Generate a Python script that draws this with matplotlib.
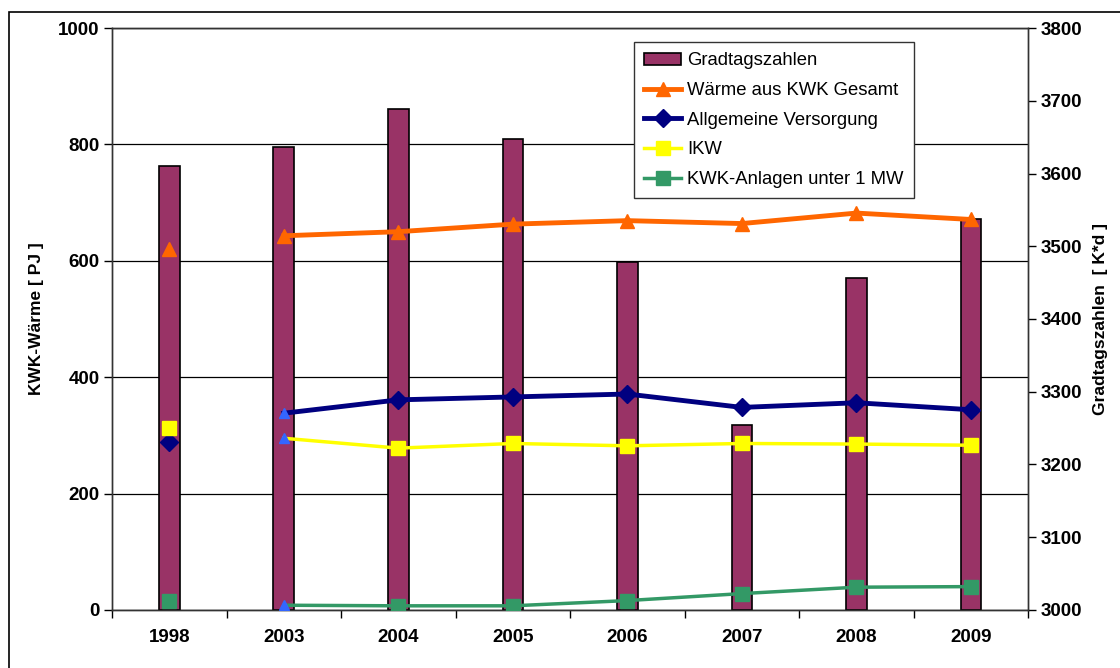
import matplotlib
matplotlib.use('Agg')
import matplotlib.pyplot as plt
from matplotlib.lines import Line2D
from matplotlib.patches import Patch, Rectangle
import numpy as np

plt.rcParams['font.family'] = ['Liberation Sans', 'DejaVu Sans']

years = ['1998', '2003', '2004', '2005', '2006', '2007', '2008', '2009']
gradtage = [3611, 3636, 3689, 3648, 3478, 3254, 3457, 3537]
waerme_gesamt = [620, 643, 650, 663, 669, 664, 682, 671]
allg_versorgung = [289, 338, 361, 366, 371, 348, 356, 344]
ikw = [312, 295, 278, 286, 282, 286, 285, 283]
kwk_klein = [15, 8, 7, 7, 16, 28, 39, 40]

c_bar = '#993366'
c_orange = '#ff6600'
c_navy = '#000080'
c_yellow = '#ffff00'
c_green = '#339966'
c_blue = '#3366ff'

fig = plt.figure(figsize=(11.2, 6.68), dpi=100)
ax1 = fig.add_axes([0.1, 0.087, 0.818, 0.871])
ax2 = ax1.twinx()
ax3 = ax1.twinx()

x = np.arange(len(years))

# left axis: grid + ticks
ax1.set_ylim(0, 1000)
ax1.set_yticks([0, 200, 400, 600, 800, 1000])
ax1.yaxis.grid(True, color='black', linewidth=0.9)
ax1.set_axisbelow(True)
ax1.set_xlim(-0.5, len(years) - 0.5)
ax1.set_xticks(x)
ax1.set_xticklabels(years)
ax1.set_xticks(np.arange(-0.5, len(years)), minor=True)
ax1.tick_params(axis='x', which='major', length=0, pad=14)
ax1.tick_params(axis='x', which='minor', length=6, direction='out', width=1)
ax1.tick_params(axis='y', length=6, direction='out', width=1, pad=3)
for lab in ax1.get_xticklabels() + ax1.get_yticklabels():
    lab.set_fontweight('bold')
    lab.set_fontsize(13.5)
ax1.set_ylabel('KWK-Wärme [ PJ ]', fontsize=12.5, fontweight='bold', labelpad=10)

# right axis: bars
ax2.set_ylim(3000, 3800)
ax2.bar(x, np.array(gradtage) - 3000, bottom=3000, width=0.18,
        color=c_bar, edgecolor='black', linewidth=1.2)
ax2.set_yticks(range(3000, 3801, 100))
ax2.tick_params(axis='y', length=6, direction='out', width=1, pad=3)
for lab in ax2.get_yticklabels():
    lab.set_fontweight('bold')
    lab.set_fontsize(13.5)
ax2.set_ylabel('Gradtagszahlen  [ K*d ]', fontsize=12.5, fontweight='bold', labelpad=8)

# lines on top
ax3.set_ylim(0, 1000)
ax3.set_yticks([])
for sp in ax3.spines.values():
    sp.set_visible(False)

ax3.plot(x[1:], waerme_gesamt[1:], color=c_orange, lw=3.5, marker='^', ms=10)
ax3.plot(x[0], waerme_gesamt[0], color=c_orange, marker='^', ms=10, ls='none')

series = [(allg_versorgung, c_navy, 'D', 9, 3.5),
          (ikw, c_yellow, 's', 10, 2.5),
          (kwk_klein, c_green, 's', 10, 2.5)]
for vals, col, mk, ms, lw in series:
    ax3.plot(x[1:], vals[1:], color=col, lw=lw, marker=mk, ms=ms, markevery=list(range(1, 7)))
    ax3.plot(x[0], vals[0], color=col, marker=mk, ms=ms, ls='none')
    ax3.plot(x[1], vals[1], color=c_blue, marker='^', ms=7, ls='none')

for ax in (ax1, ax2):
    for sp in ax.spines.values():
        sp.set_color('#333333')
        sp.set_linewidth(1)

handles = [
    Patch(facecolor=c_bar, edgecolor='black', linewidth=1.2),
    Line2D([], [], color=c_orange, lw=3.5, marker='^', ms=10),
    Line2D([], [], color=c_navy, lw=3.5, marker='D', ms=9),
    Line2D([], [], color=c_yellow, lw=2.5, marker='s', ms=10),
    Line2D([], [], color=c_green, lw=2.5, marker='s', ms=10),
]
labels = ['Gradtagszahlen', 'Wärme aus KWK Gesamt', 'Allgemeine Versorgung',
          'IKW', 'KWK-Anlagen unter 1 MW']
leg = ax3.legend(handles, labels, loc='upper left', bbox_to_anchor=(0.570, 0.976),
                 fontsize=13.3, frameon=True, fancybox=False, framealpha=1,
                 edgecolor='#333333', handlelength=2.0, handleheight=0.6,
                 handletextpad=0.3, labelspacing=0.69, borderpad=0.55,
                 borderaxespad=0)
leg.get_frame().set_linewidth(1)

# outer chart frame
fig.patches.append(Rectangle((9 / 1120, -0.1), 1.2, 1.1 - 12 / 668,
                             transform=fig.transFigure, fill=False,
                             edgecolor='black', linewidth=1.2))

fig.savefig('out.png', dpi=100)
